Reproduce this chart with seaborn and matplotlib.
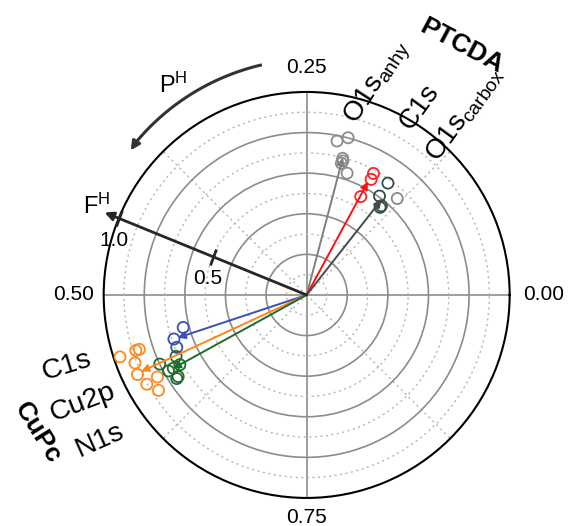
import numpy as np
import pandas as pd
import matplotlib
matplotlib.use("Agg")
import matplotlib.pyplot as plt
from matplotlib.markers import MarkerStyle
from matplotlib.transforms import Affine2D
import seaborn as sns

sns.set_style("white")
plt.rcParams["font.family"] = ["Liberation Sans", "DejaVu Sans"]
plt.rcParams["mathtext.fontset"] = "custom"
plt.rcParams["mathtext.rm"] = "Liberation Sans"
plt.rcParams["mathtext.it"] = "Liberation Sans:italic"
plt.rcParams["mathtext.bf"] = "Liberation Sans:bold"
plt.rcParams["text.color"] = "black"
plt.rcParams["xtick.labelcolor"] = "black"

# Coherent position P^H (fraction of a turn) and coherent fraction F^H
# for every core level of the two molecules
o1s_anhy_phase = [0.219, 0.209, 0.209, 0.208, 0.209, 0.199, 0.130]
o1s_anhy_frac = [0.773, 0.801, 0.696, 0.684, 0.671, 0.632, 0.652]

c1s_ptcda_phase = [0.170, 0.169, 0.170]
c1s_ptcda_frac = [0.683, 0.652, 0.553]

o1s_carbox_phase = [0.150, 0.149, 0.139, 0.139]
o1s_carbox_frac = [0.681, 0.605, 0.563, 0.573]

c1s_cupc_phase = [0.541, 0.551, 0.561]
c1s_cupc_frac = [0.629, 0.689, 0.690]

cu2p_phase = [0.551, 0.550, 0.550, 0.560, 0.570, 0.581, 0.580, 0.591]
cu2p_frac = [0.969, 0.885, 0.867, 0.910, 0.921, 0.902, 0.839, 0.868]

n1s_phase = [0.570, 0.570, 0.580, 0.580, 0.580, 0.590, 0.591]
n1s_frac = [0.711, 0.800, 0.777, 0.750, 0.713, 0.750, 0.761]

# Averaged vector of each core level
vector_names = ["O1s anhy", "C1s PTCDA", "O1s carbox", "C1s CuPc", "Cu2p", "N1s"]
vector_phase = [0.209, 0.171, 0.144, 0.551, 0.569, 0.580]
vector_frac = [0.700, 0.634, 0.597, 0.669, 0.898, 0.752]

# Angular axis labels (phase in turns)
phase_ticks = [0.00, 0.25, 0.50, 0.75]
phase_tick_labels = ["0.00", "0.25", "0.50", "0.75"]

point_colors = {
    "O1s anhy": "#8c8c8c",
    "C1s PTCDA": "#ff2222",
    "O1s carbox": "#2f4f4f",
    "C1s CuPc": "#3a50b4",
    "Cu2p": "#ff8a1e",
    "N1s": "#1e6b2c",
}
arrow_colors = {
    "O1s anhy": "#808080",
    "C1s PTCDA": "#ff1010",
    "O1s carbox": "#4a4a4a",
    "C1s CuPc": "#3a50b4",
    "Cu2p": "#ff8418",
    "N1s": "#1e6b2c",
}

groups = {
    "O1s anhy": (o1s_anhy_phase, o1s_anhy_frac),
    "C1s PTCDA": (c1s_ptcda_phase, c1s_ptcda_frac),
    "O1s carbox": (o1s_carbox_phase, o1s_carbox_frac),
    "C1s CuPc": (c1s_cupc_phase, c1s_cupc_frac),
    "Cu2p": (cu2p_phase, cu2p_frac),
    "N1s": (n1s_phase, n1s_frac),
}
points = pd.concat(
    [pd.DataFrame({"group": name, "phase": ph, "frac": fr}) for name, (ph, fr) in groups.items()],
    ignore_index=True,
)
points["theta"] = 2 * np.pi * points["phase"]

fig = plt.figure(figsize=(5.77, 5.26), dpi=100)
ax = fig.add_axes([0.1797, 0.0533, 0.7036, 0.7719], projection="polar")

# grid: solid major rings / spokes, dotted minor ones
ax.set_xticks(2 * np.pi * np.array(phase_ticks))
ax.set_xticklabels([])
ax.set_xticks(np.deg2rad([45, 135, 225, 315]), minor=True)
ax.set_yticks([0.2, 0.4, 0.6, 0.8])
ax.set_yticks([0.1, 0.3, 0.5, 0.7, 0.9], minor=True)
ax.set_yticklabels([])
ax.grid(True, which="major", color="#8c8c8c", lw=1.2, ls="-")
ax.grid(True, which="minor", color="#b5b5b5", lw=1.0, ls=(0, (1.5, 2.5)))
ax.tick_params(axis="x", which="major", direction="in", length=7, width=1.2,
               color="black")
ax.tick_params(axis="x", which="minor", length=0)
ax.tick_params(axis="y", which="both", length=0)
ax.spines["polar"].set_color("black")
ax.spines["polar"].set_linewidth(1.5)
ax.set_axisbelow(True)

# phase labels just outside the rim
label_radius = [1.169, 1.121, 1.146, 1.096]
for ph, txt, rr in zip(phase_ticks, phase_tick_labels, label_radius):
    ax.text(2 * np.pi * ph, rr, txt, fontsize=15, ha="center", va="center")

for name in groups:
    sub = points[points["group"] == name]
    sns.scatterplot(data=sub, x="theta", y="frac", ax=ax, s=64, marker="o",
                    facecolor="none", edgecolor=point_colors[name],
                    linewidth=1.3, legend=False, zorder=3)
    ax.collections[-1].set_facecolor("none")
    ax.collections[-1].set_edgecolor(point_colors[name])

for name, ph, fr in zip(vector_names, vector_phase, vector_frac):
    ax.annotate("", xy=(2 * np.pi * ph, fr), xytext=(0, 0),
                arrowprops=dict(arrowstyle="-|>", color=arrow_colors[name], lw=1.4,
                                mutation_scale=11, shrinkA=0, shrinkB=0),
                zorder=4)

ax.set_ylim(0, 1.0)
ax.set_xlabel("")
ax.set_ylabel("")

# F^H axis with ticks at 0.5 and 1.0
fh_angle = 157.8
fh_theta = np.deg2rad(fh_angle)
ax.annotate("", xy=(fh_theta, 1.075), xytext=(0, 0), annotation_clip=False,
            arrowprops=dict(arrowstyle="-|>", color="#262626", lw=2.0,
                            mutation_scale=13, shrinkA=0, shrinkB=0),
            zorder=5)
tick_mark = MarkerStyle("|", transform=Affine2D().rotate_deg(fh_angle - 180))
ax.plot([fh_theta, fh_theta], [0.5, 1.0], ls="none", marker=tick_mark, ms=12,
        mew=2.0, color="#262626", clip_on=False, zorder=5)
ax.text(np.deg2rad(164.1), 0.987, "1.0", fontsize=15, ha="center", va="center")
ax.text(np.deg2rad(170.5), 0.493, "0.5", fontsize=15, ha="center", va="center")
ax.text(np.deg2rad(157.0), 1.122, r"F$^{\mathrm{H}}$", fontsize=17,
        ha="center", va="center")

# P^H direction arc
arc_theta = np.deg2rad(np.linspace(101, 138.5, 80))
arc_r = np.linspace(1.155, 1.128, 80)
ax.plot(arc_theta, arc_r, color="#333333", lw=2.2, clip_on=False,
        solid_capstyle="butt", zorder=5)
ax.annotate("", xy=(np.deg2rad(140.6), 1.122), xytext=(arc_theta[-2], arc_r[-2]),
            annotation_clip=False,
            arrowprops=dict(arrowstyle="-|>", color="#333333", lw=2.2,
                            mutation_scale=13, shrinkA=0, shrinkB=0),
            zorder=5)
ax.text(np.deg2rad(122.5), 1.226, r"P$^{\mathrm{H}}$", fontsize=17,
        ha="center", va="center")

# core-level labels
label_kw = dict(ha="center", va="center", rotation_mode="anchor")
ax.text(np.deg2rad(71.4), 1.102, r"O1s$_{\mathrm{anhy}}$", rotation=57, fontsize=20, **label_kw)
ax.text(np.deg2rad(59.1), 1.079, "C1s", rotation=54, fontsize=20, **label_kw)
ax.text(np.deg2rad(48.9), 1.186, r"O1s$_{\mathrm{carbox}}$", rotation=54, fontsize=20, **label_kw)
ax.text(np.deg2rad(58.05), 1.446, "PTCDA", rotation=-28, fontsize=19,
        fontweight="bold", **label_kw)

ax.text(np.deg2rad(196.5), 1.231, "C1s", rotation=17, fontsize=20.5, **label_kw)
ax.text(np.deg2rad(205.8), 1.224, "Cu2p", rotation=21, fontsize=20.5, **label_kw)
ax.text(np.deg2rad(215.05), 1.244, "N1s", rotation=24, fontsize=20.5, **label_kw)
ax.text(np.deg2rad(207.2), 1.488, "CuPc", rotation=-58, fontsize=19,
        fontweight="bold", **label_kw)

fig.savefig("out.png", dpi=100)
